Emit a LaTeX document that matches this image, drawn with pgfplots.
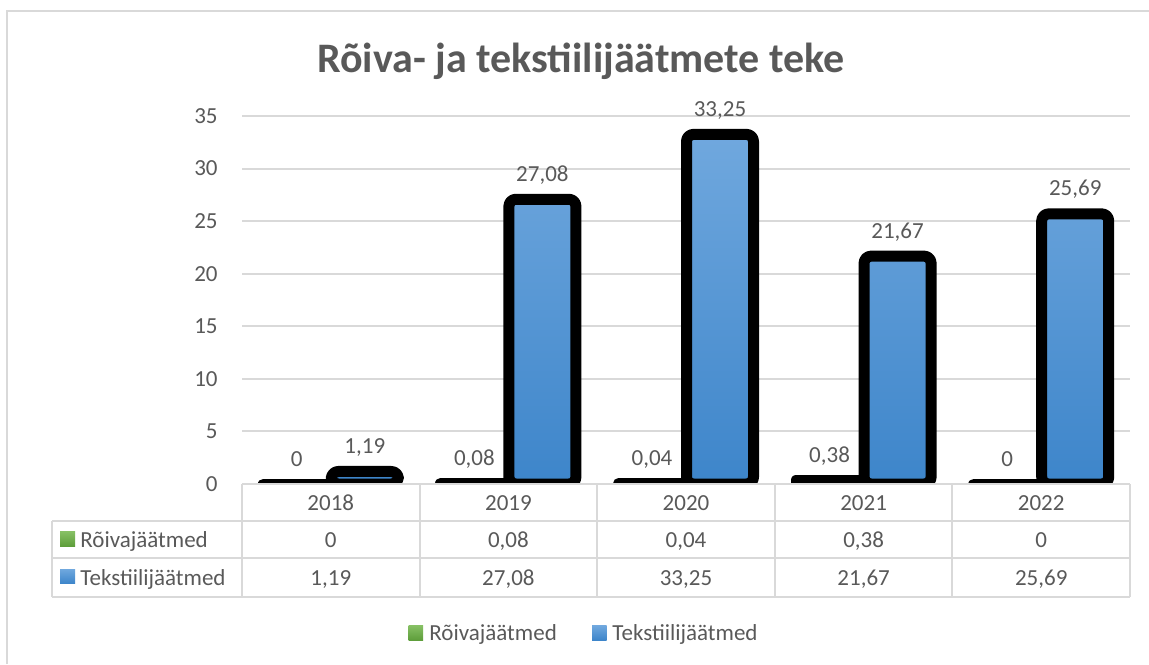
\documentclass[border=0pt]{standalone}
\usepackage{pgfplots}
\pgfplotsset{compat=1.18}
\usepackage{fontspec}
\setmainfont{Carlito}

\definecolor{txt}{HTML}{595959}
\definecolor{gridc}{HTML}{D9D9D9}
\definecolor{blueT}{HTML}{70A8DE}
\definecolor{blueB}{HTML}{3D85CA}
\definecolor{greenT}{HTML}{86C064}
\definecolor{greenB}{HTML}{5E9E3B}

\newcommand{\lbl}{\fontsize{11.5}{13}\selectfont}

\begin{document}
\begin{tikzpicture}
\useasboundingbox (0,0) rectangle (574.5pt,332pt);

\begin{axis}[
    at={(121pt,90pt)}, anchor=south west,
    width=444pt, height=184pt, scale only axis,
    xmin=-0.5, xmax=4.5,
    ymin=0, ymax=35,
    ytick={0,5,...,35},
    xtick=\empty,
    ymajorgrids,
    grid style={gridc, line width=1pt},
    axis line style={draw=none},
    major tick length=0pt,
    /pgf/number format/assume math mode=true,
    yticklabel style={font=\lbl, text=txt, inner sep=0pt, xshift=-12pt},
    ybar=0.5pt,
    bar width=33.5pt,
    nodes near coords,
    point meta=explicit symbolic,
    every node near coord/.append style={font=\lbl, text=txt, inner sep=0pt, anchor=base, yshift=9pt},
]
\addplot[draw=black, line width=5.5pt, line join=round, top color=greenT, bottom color=greenB]
table[meta=lbl] {
x y lbl
0 0    0
1 0.08 0,08
2 0.04 0,04
3 0.38 0,38
4 0    0
};
\addplot[draw=black, line width=5.5pt, line join=round, rounded corners=3.5pt, top color=blueT, bottom color=blueB]
table[meta=lbl] {
x y lbl
0 1.19  1,19
1 27.08 27,08
2 33.25 33,25
3 21.67 21,67
4 25.69 25,69
};
\end{axis}

% chart frame, title, data table and legend (pixel grid of the reference)
\begin{scope}[x=0.5pt, y=-0.5pt, shift={(0,332pt)}]
  \draw[gridc, line width=1pt] (7,664) -- (7,11.5) -- (1149,11.5);
  \node[anchor=base, font=\fontsize{21}{24}\selectfont\bfseries, text=txt] at (581,72.5) {Rõiva- ja tekstiilijäätmete teke};

  % table grid
  \draw[gridc, line width=1pt] (242,484) -- (1130,484);
  \draw[gridc, line width=1pt] (52,520.5) -- (1130,520.5);
  \draw[gridc, line width=1pt] (52,558) -- (1130,558);
  \draw[gridc, line width=1pt] (52,596.5) -- (1130,596.5);
  \draw[gridc, line width=1pt] (52,520.5) -- (52,596.5);
  \foreach \i in {0,...,5} {
    \draw[gridc, line width=1pt] ({242+177.6*\i},484) -- ({242+177.6*\i},596.5);
  }

  % table text
  \foreach \yr [count=\i from 0] in {2018,2019,2020,2021,2022}
    \node[anchor=base, font=\lbl, text=txt, inner sep=0pt] at ({242+177.6*(\i+0.5)},510) {\yr};
  \foreach \v [count=\i from 0] in {0,{0,08},{0,04},{0,38},0}
    \node[anchor=base, font=\lbl, text=txt, inner sep=0pt] at ({242+177.6*(\i+0.5)},547) {\v};
  \foreach \v [count=\i from 0] in {{1,19},{27,08},{33,25},{21,67},{25,69}}
    \node[anchor=base, font=\lbl, text=txt, inner sep=0pt] at ({242+177.6*(\i+0.5)},585) {\v};

  % row keys
  \shade[top color=greenT, bottom color=greenB] (60,531.5) rectangle (75,546);
  \node[anchor=base west, font=\lbl, text=txt, inner sep=0pt] at (80,547) {Rõivajäätmed};
  \shade[top color=blueT, bottom color=blueB] (60,569) rectangle (75,583.5);
  \node[anchor=base west, font=\lbl, text=txt, inner sep=0pt] at (80,585) {Tekstiilijäätmed};

  % legend
  \shade[top color=greenT, bottom color=greenB] (408.5,625.5) rectangle (423,640);
  \node[anchor=base west, font=\lbl, text=txt, inner sep=0pt] at (429,640) {Rõivajäätmed};
  \shade[top color=blueT, bottom color=blueB] (592,625.5) rectangle (606.5,640);
  \node[anchor=base west, font=\lbl, text=txt, inner sep=0pt] at (612,640) {Tekstiilijäätmed};
\end{scope}
\end{tikzpicture}
\end{document}
